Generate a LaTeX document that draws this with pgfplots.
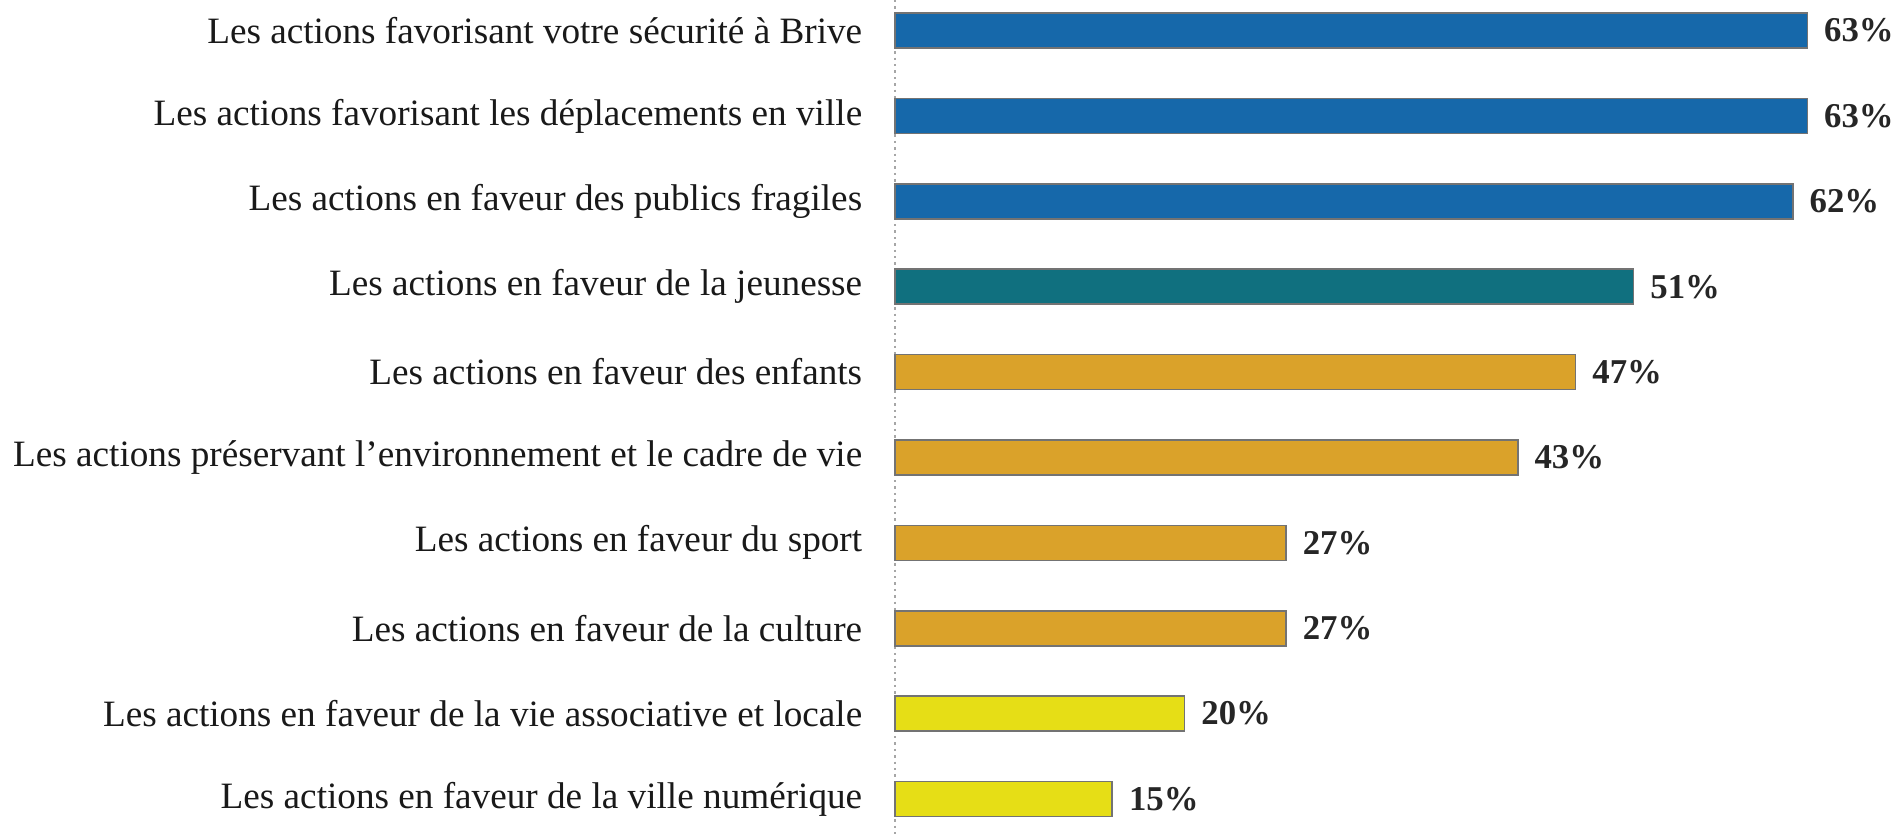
\documentclass[border=0pt]{standalone}
\usepackage{fontspec}
\setmainfont{Liberation Serif}
\usepackage{pgfplots}
\pgfplotsset{compat=1.18}
\definecolor{cblue}{HTML}{1668AA}
\definecolor{cteal}{HTML}{10707F}
\definecolor{cgold}{HTML}{DAA22A}
\definecolor{cyel}{HTML}{E6DE16}
\begin{document}
\begin{tikzpicture}
\begin{axis}[
  name=a,
  xbar, bar shift=0pt, bar width=8.75pt,
  scale only axis, width=251.25pt, height=209.5pt,
  xmin=0, xmax=69.4,
  ymin=-0.357, ymax=9.457, y dir=reverse,
  axis x line=none,
  axis y line*=left,
  y axis line style={draw=gray!70, densely dotted, line width=0.6pt},
  ytick={0,...,9},
  yticklabels={
    Les actions favorisant votre sécurité à Brive,
    Les actions favorisant les déplacements en ville,
    Les actions en faveur des publics fragiles,
    Les actions en faveur de la jeunesse,
    Les actions en faveur des enfants,
    Les actions préservant l’environnement et le cadre de vie,
    Les actions en faveur du sport,
    Les actions en faveur de la culture,
    Les actions en faveur de la vie associative et locale,
    Les actions en faveur de la ville numérique},
  major tick length=0pt,
  yticklabel style={font=\fontsize{9.3}{11}\selectfont, inner xsep=0pt, xshift=-8pt, text=black!90},
  clip=false,
  nodes near coords={\pgfmathprintnumber[fixed,precision=0,assume math mode=true]{\pgfplotspointmeta}\%},
  every node near coord/.append style={font=\bfseries\fontsize{8.7}{10}\selectfont, anchor=west, inner sep=0pt, xshift=4pt, text=black!85},
]
\addplot[draw=black!55, line width=0.4pt, fill=cblue] coordinates {(63,0) (63,1) (62,2)};
\addplot[draw=black!55, line width=0.4pt, fill=cteal] coordinates {(51,3)};
\addplot[draw=black!55, line width=0.4pt, fill=cgold] coordinates {(47,4) (43,5) (27,6) (27,7)};
\addplot[draw=black!55, line width=0.4pt, fill=cyel] coordinates {(20,8) (15,9)};
\end{axis}
\pgfresetboundingbox
\path (a.south west) ++(-223.75pt,0) rectangle (a.north east);
\end{tikzpicture}
\end{document}
